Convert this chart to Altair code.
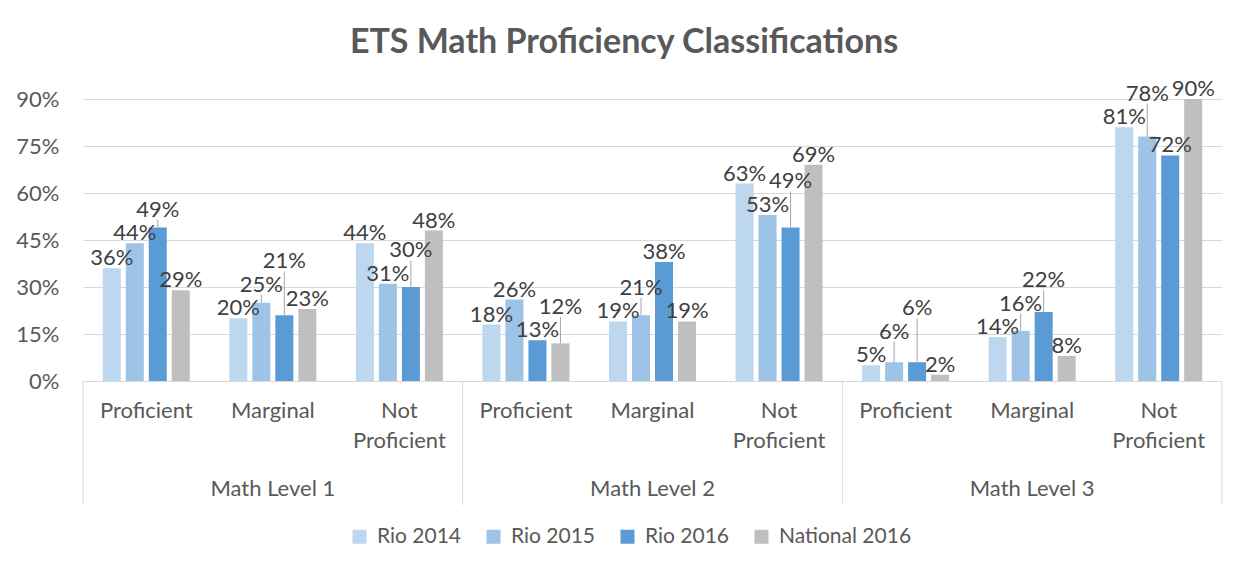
import altair as alt
import pandas as pd

# ---------------- data ----------------
levels = ["Math Level 1", "Math Level 2", "Math Level 3"]
categories = ["Proficient", "Marginal", "Not Proficient"]
series = ["Rio 2014", "Rio 2015", "Rio 2016", "National 2016"]
colors = ["#bdd7ee", "#9dc3e6", "#5b9bd5", "#bfbfbf"]

# values per (level, category), in order L1 P/M/NP, L2 P/M/NP, L3 P/M/NP
rio_2014 = [36, 20, 44, 18, 19, 63, 5, 14, 81]
rio_2015 = [44, 25, 31, 26, 21, 53, 6, 16, 78]
rio_2016 = [49, 21, 30, 13, 38, 49, 6, 22, 72]
national_2016 = [29, 23, 48, 12, 19, 69, 2, 8, 90]

y_ticks = [0, 0.15, 0.30, 0.45, 0.60, 0.75, 0.90]
title_text = "ETS Math Proficiency Classifications"

# ---------------- build tables ----------------
series_values = [rio_2014, rio_2015, rio_2016, national_2016]
keys = [f"{lv}|{c}" for lv in levels for c in categories]

LABEL_GAP = 7.5  # min vertical separation of neighbouring labels, in % points

rows = []
for gi, key in enumerate(keys):
    prev = None
    for si, s in enumerate(series):
        v = series_values[si][gi]
        ly = v
        if prev is not None and abs(ly - prev) < LABEL_GAP:
            ly = prev + LABEL_GAP
        prev = ly
        rows.append({
            "key": key,
            "series": s,
            "value": v / 100,
            "label_y": ly / 100,
            "label": f"{v}%",
            "raised": (ly - v) > 0.5,
        })
df = pd.DataFrame(rows)

cat_df = pd.DataFrame([
    {"key": f"{lv}|{c}", "text": c.replace("Not ", "Not\n")}
    for lv in levels for c in categories
])
lvl_df = pd.DataFrame([{"key": f"{lv}|Marginal", "text": lv} for lv in levels])
sep_start_df = pd.DataFrame([{"key": f"{lv}|Proficient"} for lv in levels])
sep_end_df = pd.DataFrame([{"key": keys[-1]}])
title_df = pd.DataFrame([{"text": title_text}])

W, H = 1139, 282
FONT = "Lato"

x_scale = alt.Scale(domain=keys, paddingInner=0, paddingOuter=0)
xo_scale = alt.Scale(domain=series, paddingInner=0.217, paddingOuter=0.86)
y_scale = alt.Scale(domain=[0, 0.9], nice=False, zero=True)

base = alt.Chart(df)

bars = base.mark_bar().encode(
    x=alt.X("key:N", scale=x_scale, axis=None),
    xOffset=alt.XOffset("series:N", scale=xo_scale),
    y=alt.Y("value:Q", scale=y_scale,
            axis=alt.Axis(values=y_ticks, format=".0%", grid=True, gridColor="#d9d9d9",
                          gridWidth=1, domain=False, ticks=False, labelFontSize=22,
                          labelColor="#595959", labelPadding=24, title=None, labelFont=FONT)),
    color=alt.Color("series:N", scale=alt.Scale(domain=series, range=colors),
                    legend=alt.Legend(title=None, orient="none", direction="horizontal",
                                      legendX=266, legendY=427, symbolType="square",
                                      symbolSize=196, symbolStrokeWidth=0,
                                      labelFontSize=21, labelFont=FONT, labelColor="#595959",
                                      columnPadding=21, labelOffset=7)),
)

leaders = base.transform_filter("datum.raised").mark_rule(color="#a6a6a6", strokeWidth=1).encode(
    x=alt.X("key:N", scale=x_scale, axis=None),
    xOffset=alt.XOffset("series:N", scale=xo_scale),
    y=alt.Y("value:Q", scale=y_scale),
    y2=alt.Y2("label_y:Q"),
)

labels = base.mark_text(fontSize=22, font=FONT, color="#404040", baseline="alphabetic", dy=-3).encode(
    x=alt.X("key:N", scale=x_scale, axis=None),
    xOffset=alt.XOffset("series:N", scale=xo_scale),
    y=alt.Y("label_y:Q", scale=y_scale),
    text="label:N",
)

cat_labels = alt.Chart(cat_df).mark_text(fontSize=22, font=FONT, color="#595959",
                                         baseline="middle", lineBreak="\n", lineHeight=30).encode(
    x=alt.X("key:N", scale=x_scale, axis=None, bandPosition=0.5),
    y=alt.value(H + 30),
    text="text:N",
)

lvl_labels = alt.Chart(lvl_df).mark_text(fontSize=22, font=FONT, color="#595959",
                                         baseline="middle").encode(
    x=alt.X("key:N", scale=x_scale, axis=None, bandPosition=0.5),
    y=alt.value(H + 108),
    text="text:N",
)

sep_start = alt.Chart(sep_start_df).mark_rule(color="#d9d9d9", strokeWidth=1).encode(
    x=alt.X("key:N", scale=x_scale, axis=None, bandPosition=0),
    y=alt.value(H),
    y2=alt.value(H + 124),
)
sep_end = alt.Chart(sep_end_df).mark_rule(color="#d9d9d9", strokeWidth=1).encode(
    x=alt.X("key:N", scale=x_scale, axis=None, bandPosition=1),
    y=alt.value(H),
    y2=alt.value(H + 124),
)

title = alt.Chart(title_df).mark_text(fontSize=34, font=FONT, fontWeight="bold", color="#595959",
                                      baseline="alphabetic", align="center").encode(
    x=alt.value(541),
    y=alt.value(-46),
    text="text:N",
)

chart = alt.layer(bars, leaders, labels, cat_labels, lvl_labels, sep_start, sep_end, title).properties(
    width=W,
    height=H,
    autosize=alt.AutoSizeParams(type="none"),
    padding={"left": 75, "top": 91, "right": 19, "bottom": 188},
).configure_view(stroke=None)

chart.save("out.html", embed_options={"renderer": "svg", "actions": False})
